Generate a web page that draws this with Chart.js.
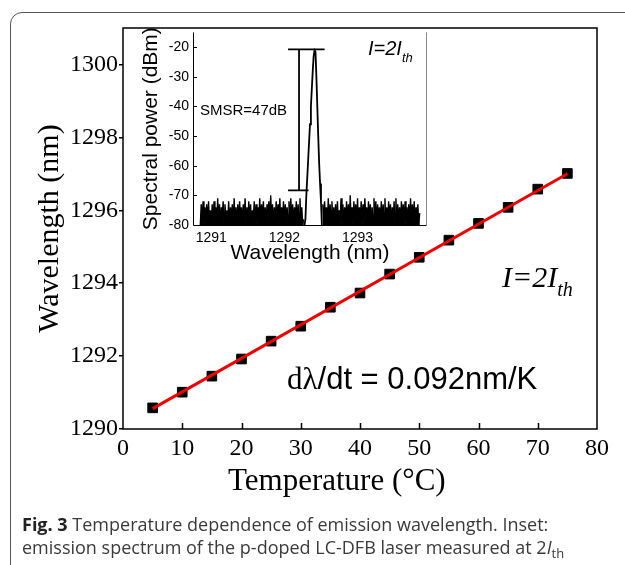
<!DOCTYPE html>
<html>
<head>
<meta charset="utf-8">
<script src="https://cdn.jsdelivr.net/npm/chart.js@4.4.1/dist/chart.umd.min.js"></script>
<style>
  body { margin: 0; width: 625px; height: 565px; overflow: hidden; background: #fff; position: relative; }
  #frame { position: absolute; left: 10px; top: 12px; width: 640px; height: 600px; border: 1.5px solid #555; border-radius: 12px; box-sizing: border-box; }
  #main { position: absolute; left: 0; top: 0; }
  #inset { position: absolute; left: 130px; top: 20px; }
  .txt { position: absolute; white-space: nowrap; line-height: 1; color: #000; }
  .serif { font-family: "Liberation Serif", serif; }
  .sans { font-family: "Liberation Sans", Arial, sans-serif; }
  .cap { font-family: "Open Sans", sans-serif; font-size: 18px; color: #3a3a3a; }
</style>
</head>
<body>
<div id="frame"></div>
<canvas id="main" width="625" height="565"></canvas>
<canvas id="inset" width="305" height="255"></canvas>

<div class="txt serif" style="left:228px; top:464px; font-size:31px;">Temperature (°C)</div>
<div class="txt serif" style="left:502px; top:262px; font-size:30px; font-style:italic;">I=2I<span style="font-size:20px; position:relative; top:9px;">th</span></div>
<div class="txt sans" style="left:287px; top:363px; font-size:31px;"><span class="serif">dλ</span>/dt = 0.092nm/K</div>
<div class="txt sans" style="left:368px; top:38px; font-size:20px; font-style:italic;">I=2I<span style="font-size:13px; position:relative; top:7px;">th</span></div>
<div class="txt sans" style="left:200px; top:102px; font-size:15px;">SMSR=47dB</div>
<div class="txt cap" style="left:22px; top:515px;"><b style="color:#222">Fig. 3</b> Temperature dependence of emission wavelength. Inset:</div>
<div class="txt cap" style="left:22px; top:538px;">emission spectrum of the p-doped LC-DFB laser measured at 2<i>I</i><span style="font-size:13px; position:relative; top:4px;">th</span></div>

<script>
// main plot: lasing wavelength vs temperature
const tempC = [5, 10, 15, 20, 25, 30, 35, 40, 45, 50, 55, 60, 65, 70, 75];
const wavelengthNm = [1290.58, 1291.01, 1291.45, 1291.92, 1292.41, 1292.82, 1293.34, 1293.73,
                      1294.25, 1294.71, 1295.18, 1295.64, 1296.08, 1296.58, 1297.01];
const fitT = [5, 75];
const fitNm = [1290.56, 1297.0];
const tempTicks = [0, 10, 20, 30, 40, 50, 60, 70, 80];
const wlTicks = [1290, 1292, 1294, 1296, 1298, 1300];

// inset: spectrum, OSA samples every 0.0125 nm
const specStep = 0.0125;
const noiseLeftStart = 1290.85;
const noiseLeft = [
  -80,-73,-79,-72,-80,-74,-78,-73,-80,-72,
  -79,-75,-80,-73,-80,-72,-78,-74,-80,-71,
  -79,-73,-80,-74,-77,-72,-80,-73,-79,-75,
  -80,-72,-80,-74,-78,-73,-80,-71,-79,-74,
  -80,-73,-80,-72,-78,-74,-80,-73,-79,-71,
  -80,-74,-80,-72,-79,-73,-80,-75,-78,-72,
  -80,-73,-80,-74,-79,-71,-80,-73,-78,-72,
  -80,-74,-80,-73,-79,-72,-80,-70,-78,-73,
  -80,-74,-80,-72,-79,-73,-80,-71,-80,-74,
  -78,-72,-80,-73,-79,-74,-80,-72,-80,-71,
  -79,-73,-80,-74,-78,-72,-80,-73,-80,-71,
  -79,-74,-80,-78
];
// lasing mode
const peakStart = 1292.275;
const peakPower = [
  -80,-78,-70,-64,-58,-52,-46,-40,-34,-28,
  -23,-21,-21.5,-30,-40,-50,-59,-66,-72,-80
];
const noiseRightStart = 1292.525;
const noiseRight = [
  -73,-80,-72,-79,-74,-80,-71,-80,-73,-78,
  -72,-80,-74,-79,-73,-80,-72,-80,-75,-78,
  -71,-80,-73,-80,-74,-79,-72,-80,-73,-80,
  -70,-79,-74,-80,-72,-78,-73,-80,-71,-80,
  -74,-79,-72,-80,-73,-80,-71,-78,-74,-80,
  -72,-79,-73,-80,-74,-80,-71,-79,-72,-80,
  -73,-78,-74,-80,-72,-80,-73,-79,-71,-80,
  -74,-80,-72,-78,-73,-80,-74,-79,-72,-80,
  -71,-80,-73,-79,-74,-80,-72,-78,-73,-80,
  -72,-80,-74,-79,-73,-80,-71,-80,-73,-79,
  -72,-80,-74,-78,-73,-80,-76
];
const specTicks = [1291, 1292, 1293];
const powerTicks = [-80, -70, -60, -50, -40, -30, -20];
// SMSR marker: top bar, vertical, bottom bar
const smsrSegs = [
  [[1292.05, -20.7], [1292.55, -20.7]],
  [[1292.2, -20.7], [1292.2, -68.3]],
  [[1292.05, -68.3], [1292.33, -68.3]]
];

const serif = "Liberation Serif";
const sans = "Liberation Sans";

const mainDeco = {
  id: "mainDeco",
  afterDraw(chart) {
    const { ctx, chartArea: a, scales: { x } } = chart;
    ctx.save();
    ctx.strokeStyle = "#000";
    ctx.lineWidth = 1.5;
    ctx.strokeRect(a.left, a.top, a.right - a.left, a.bottom - a.top);
    ctx.beginPath();
    tempTicks.slice(1, -1).forEach((v) => {
      const px = Math.round(x.getPixelForValue(v)) + 0.5;
      ctx.moveTo(px, a.bottom);
      ctx.lineTo(px, a.bottom - 6);
    });
    ctx.stroke();
    ctx.restore();
  }
};

new Chart(document.getElementById("main"), {
  data: {
    datasets: [
      {
        type: "line",
        data: fitT.map((t, i) => ({ x: t, y: fitNm[i] })),
        borderColor: "#ee0000",
        borderWidth: 3,
        pointRadius: 0,
      },
      {
        type: "scatter",
        data: tempC.map((t, i) => ({ x: t, y: wavelengthNm[i] })),
        pointStyle: "rect",
        pointRadius: 6.8,
        backgroundColor: "#000",
        borderColor: "#000",
        borderWidth: 1,
      },
    ],
  },
  options: {
    responsive: false,
    animation: false,
    layout: { padding: { left: 0, top: 28, right: 28, bottom: 76 } },
    plugins: { legend: { display: false }, tooltip: { enabled: false } },
    scales: {
      x: {
        type: "linear",
        min: 0,
        max: 80,
        afterBuildTicks: (s) => { s.ticks = tempTicks.map((v) => ({ value: v })); },
        afterFit: (s) => { s.height = 60; },
        grid: { display: false, drawTicks: false },
        border: { display: false },
        ticks: { padding: 5, color: "#000", font: { family: serif, size: 24 }, callback: (v) => String(v) },
      },
      y: {
        type: "linear",
        min: 1290,
        max: 1301,
        afterBuildTicks: (s) => { s.ticks = wlTicks.map((v) => ({ value: v })); },
        afterFit: (s) => { s.width = 123; },
        grid: { display: true, drawOnChartArea: false, drawTicks: true, tickLength: 4, color: "#000", lineWidth: 1.5 },
        border: { display: false },
        ticks: { padding: 1, color: "#000", font: { family: serif, size: 24 }, callback: (v) => String(v) },
        title: { display: true, text: "Wavelength (nm)", color: "#000", font: { family: serif, size: 30 }, padding: { top: 32 } },
      },
    },
  },
  plugins: [mainDeco],
});

const insetDeco = {
  id: "insetDeco",
  afterDraw(chart) {
    const { ctx, chartArea: a, scales: { x, y } } = chart;
    ctx.save();
    ctx.lineWidth = 1;
    ctx.strokeStyle = "#000";
    ctx.beginPath();
    ctx.moveTo(a.left + 0.5, a.top);
    ctx.lineTo(a.left + 0.5, a.bottom + 0.5);
    ctx.lineTo(a.right, a.bottom + 0.5);
    powerTicks.slice(1).forEach((v) => {
      const py = Math.round(y.getPixelForValue(v)) + 0.5;
      ctx.moveTo(a.left, py);
      ctx.lineTo(a.left + 4, py);
    });
    ctx.stroke();
    ctx.strokeStyle = "#888";
    ctx.beginPath();
    ctx.moveTo(a.right - 0.5, a.top);
    ctx.lineTo(a.right - 0.5, a.bottom + 1);
    ctx.stroke();
    ctx.restore();
  }
};

const toPts = (start, arr) => arr.map((p, i) => ({ x: start + i * specStep, y: p }));

const noiseSet = (start, arr) => ({
  data: toPts(start, arr),
  borderColor: "#000",
  backgroundColor: "#000",
  borderWidth: 1.4,
  pointRadius: 0,
  fill: "start",
});

const markerSets = smsrSegs.map((seg) => ({
  data: seg.map((p) => ({ x: p[0], y: p[1] })),
  borderColor: "#000",
  borderWidth: 1.8,
  pointRadius: 0,
}));

new Chart(document.getElementById("inset"), {
  type: "line",
  data: {
    datasets: [
      noiseSet(noiseLeftStart, noiseLeft),
      {
        data: toPts(peakStart, peakPower),
        borderColor: "#000",
        borderWidth: 1.8,
        pointRadius: 0,
      },
      noiseSet(noiseRightStart, noiseRight),
      ...markerSets,
    ],
  },
  options: {
    responsive: false,
    animation: false,
    layout: { padding: { left: 0, top: 8, right: 8, bottom: 0 } },
    plugins: { legend: { display: false }, tooltip: { enabled: false }, filler: { propagate: false } },
    scales: {
      x: {
        type: "linear",
        min: 1290.75,
        max: 1293.95,
        afterBuildTicks: (s) => { s.ticks = specTicks.map((v) => ({ value: v })); },
        afterFit: (s) => { s.height = 50; },
        grid: { display: false, drawTicks: false },
        border: { display: false },
        ticks: { padding: 5, color: "#000", font: { family: sans, size: 14 }, callback: (v) => String(v) },
        title: { display: true, text: "Wavelength (nm)", color: "#000", font: { family: sans, size: 21 }, padding: { bottom: 9 } },
      },
      y: {
        type: "linear",
        min: -80,
        max: -15,
        afterBuildTicks: (s) => { s.ticks = powerTicks.map((v) => ({ value: v })); },
        afterFit: (s) => { s.width = 63; },
        grid: { display: false, drawTicks: false },
        border: { display: false },
        ticks: { padding: 4, color: "#000", font: { family: sans, size: 14 }, callback: (v) => String(v) },
        title: { display: true, text: "Spectral power (dBm)", color: "#000", font: { family: sans, size: 21 }, padding: { top: 9 } },
      },
    },
  },
  plugins: [insetDeco],
});
</script>
</body>
</html>
